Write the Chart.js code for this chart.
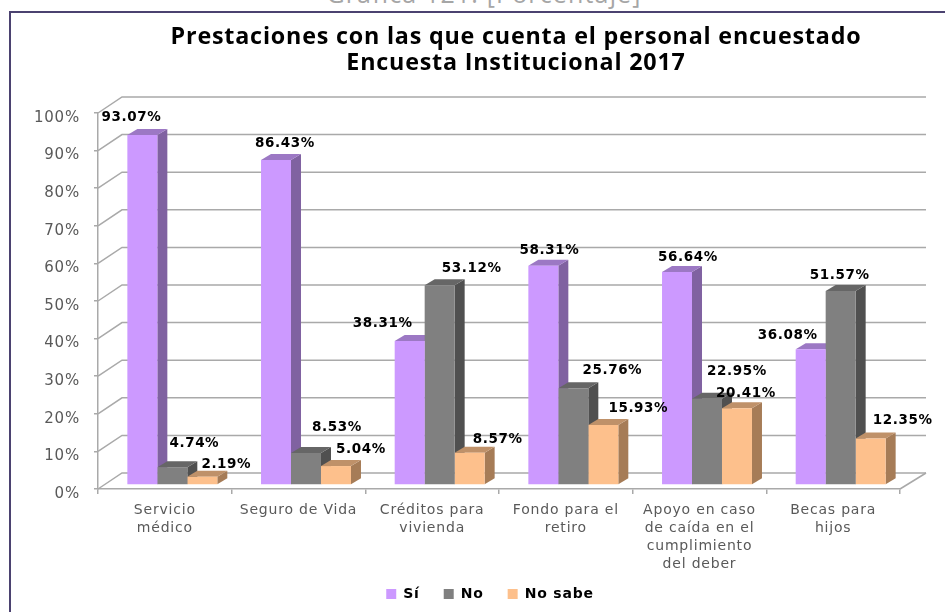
<!DOCTYPE html>
<html><head><meta charset="utf-8">
<style>
html,body{margin:0;padding:0;background:#fff;width:945px;height:612px;overflow:hidden}
#frameTop{position:absolute;left:9px;top:11px;width:936px;height:2px;background:#4b4270}
#frameLeft{position:absolute;left:9px;top:11px;width:2px;height:601px;background:#4b4270}
#cap{position:absolute;left:0;width:968px;text-align:center;top:-24px;font:25px/34px "Open Sans";color:#a6a6a6;letter-spacing:1.15px}
canvas{position:absolute;left:0;top:0}
</style>
<script src="https://cdn.jsdelivr.net/npm/chart.js@4"></script>
</head><body>
<div id="cap">Gráfica 121. [Porcentaje]</div>
<div id="frameTop"></div><div id="frameLeft"></div>
<canvas id="c" width="945" height="612"></canvas>
<script>
const titleLines = ["Prestaciones con las que cuenta el personal encuestado","Encuesta Institucional 2017"];
const categories = [["Servicio","médico"],["Seguro de Vida"],["Créditos para","vivienda"],["Fondo para el","retiro"],["Apoyo en caso","de caída en el","cumplimiento","del deber"],["Becas para","hijos"]];
const si = [93.07,86.43,38.31,58.31,56.64,36.08];
const no = [4.74,8.53,53.12,25.76,22.95,51.57];
const noSabe = [2.19,5.04,8.57,15.93,20.41,12.35];

const colors = [
 {front:"#CC99FF",side:"#8062A1",top:"#9C78C4"},
 {front:"#808080",side:"#505050",top:"#666666"},
 {front:"#FDC08C",side:"#A67C57",top:"#BF9169"}
];
// label nudges relative to each bar's top centre
const labelDx = [[-11,9,-27,6,11,-23],[22,31,32,39,30,-1],[24,25,28,35,9,32]];
const labelDy = [[-18,-17,-17,-15,-15,-14],[-24,-25,-17,-18,-27,-16],[-12,-17,-13,-17,-15,-18]];
const SHIFT = {x:7.5,y:-4}, DEPTH = {x:10,y:-6}, WALL = {x:24,y:-16};
const GRID = "#a9a9a9", TICK_TEXT = "#595959", SPACING = "0.8px";

const bar3d = {
 id:"bar3d",
 beforeLayout(chart){ chart.ctx.letterSpacing = SPACING; },
 beforeDraw(chart){ chart.ctx.letterSpacing = SPACING; },
 afterLayout(chart){
  const t = chart.titleBlock; t.left = 116; t.right = 916; t.top = 24; t.bottom = 76;
  const l = chart.legend, h = l.bottom - l.top; l.left = 190; l.right = 790; l.top = 563; l.bottom = 563+h;
  chart.scales.x.bottom = chart.height;
 },
 beforeDatasetsDraw(chart){
  const {ctx,chartArea:a,scales:{y}} = chart;
  ctx.save();
  ctx.strokeStyle = GRID; ctx.lineWidth = 1.5;
  y.ticks.forEach(t=>{
    const py = y.getPixelForValue(t.value);
    ctx.beginPath();
    ctx.moveTo(a.left,py);
    ctx.lineTo(a.left+WALL.x,py+WALL.y);
    ctx.lineTo(a.right+WALL.x+2,py+WALL.y);
    ctx.stroke();
  });
  ctx.beginPath();
  ctx.moveTo(a.right,a.bottom);
  ctx.lineTo(a.right+WALL.x+2,a.bottom+WALL.y);
  ctx.stroke();
  ctx.translate(SHIFT.x,SHIFT.y);
  chart.data.datasets.forEach((d,di)=>{
    chart.getDatasetMeta(di).data.forEach(b=>{
      const x0=b.x-b.width/2, x1=b.x+b.width/2, ty=b.y, by=b.base;
      ctx.fillStyle=colors[di].side;
      ctx.beginPath();ctx.moveTo(x1,ty);ctx.lineTo(x1+DEPTH.x,ty+DEPTH.y);ctx.lineTo(x1+DEPTH.x,by+DEPTH.y);ctx.lineTo(x1,by);ctx.closePath();ctx.fill();
      ctx.fillStyle=colors[di].top;
      ctx.beginPath();ctx.moveTo(x0,ty);ctx.lineTo(x0+DEPTH.x,ty+DEPTH.y);ctx.lineTo(x1+DEPTH.x,ty+DEPTH.y);ctx.lineTo(x1,ty);ctx.closePath();ctx.fill();
    });
  });
 },
 afterDatasetsDraw(chart){
  const {ctx} = chart;
  ctx.restore();
  ctx.save();
  ctx.letterSpacing='0.6px';
  ctx.font='bold 13.5px "DejaVu Sans"';
  ctx.fillStyle="#000";ctx.textAlign="center";ctx.textBaseline="middle";
  chart.data.datasets.forEach((d,di)=>{
    chart.getDatasetMeta(di).data.forEach((b,i)=>{
      ctx.fillText(d.data[i].toFixed(2)+"%", b.x+SHIFT.x+labelDx[di][i], b.y+SHIFT.y+labelDy[di][i]);
    });
  });
  ctx.restore();
 }
};

new Chart(document.getElementById("c"),{
 type:"bar",
 data:{labels:categories,datasets:[
  {label:"Sí",data:si,backgroundColor:colors[0].front,clip:false},
  {label:"No",data:no,backgroundColor:colors[1].front,clip:false},
  {label:"No sabe",data:noSabe,backgroundColor:colors[2].front,clip:false}
 ]},
 options:{
  responsive:false,animation:false,
  layout:{autoPadding:false,padding:{left:0,right:45,top:61,bottom:0}},
  datasets:{bar:{categoryPercentage:0.673,barPercentage:1}},
  plugins:{
   tooltip:{enabled:false},
   title:{display:true,text:titleLines,color:"#000",padding:0,font:{family:"Open Sans",size:23.3,weight:"bold",lineHeight:"26px"}},
   legend:{position:"bottom",labels:{boxWidth:10,boxHeight:10,padding:24,color:"#000",font:{family:"DejaVu Sans",size:14,weight:"bold"}}}
  },
  scales:{
   x:{
    afterFit(s){s.height = 123 - (s.chart.legend ? s.chart.legend.height : 0);},
    grid:{drawOnChartArea:false,color:GRID,lineWidth:1.5,tickLength:5},
    border:{color:GRID,width:1.5},
    ticks:{color:TICK_TEXT,maxRotation:0,minRotation:0,autoSkip:false,padding:7,font:{family:"DejaVu Sans",size:14,lineHeight:"18px"}}
   },
   y:{
    min:0,max:100,
    afterFit(s){s.width = 98;},
    grid:{drawOnChartArea:false,color:GRID,lineWidth:1.5,tickLength:4},
    border:{color:GRID,width:1.5},
    ticks:{stepSize:10,color:TICK_TEXT,padding:14,labelOffset:5,callback:v=>v+"%",font:{family:"DejaVu Sans",size:15}}
   }
  }
 },
 plugins:[bar3d]
});
</script>
</body></html>
